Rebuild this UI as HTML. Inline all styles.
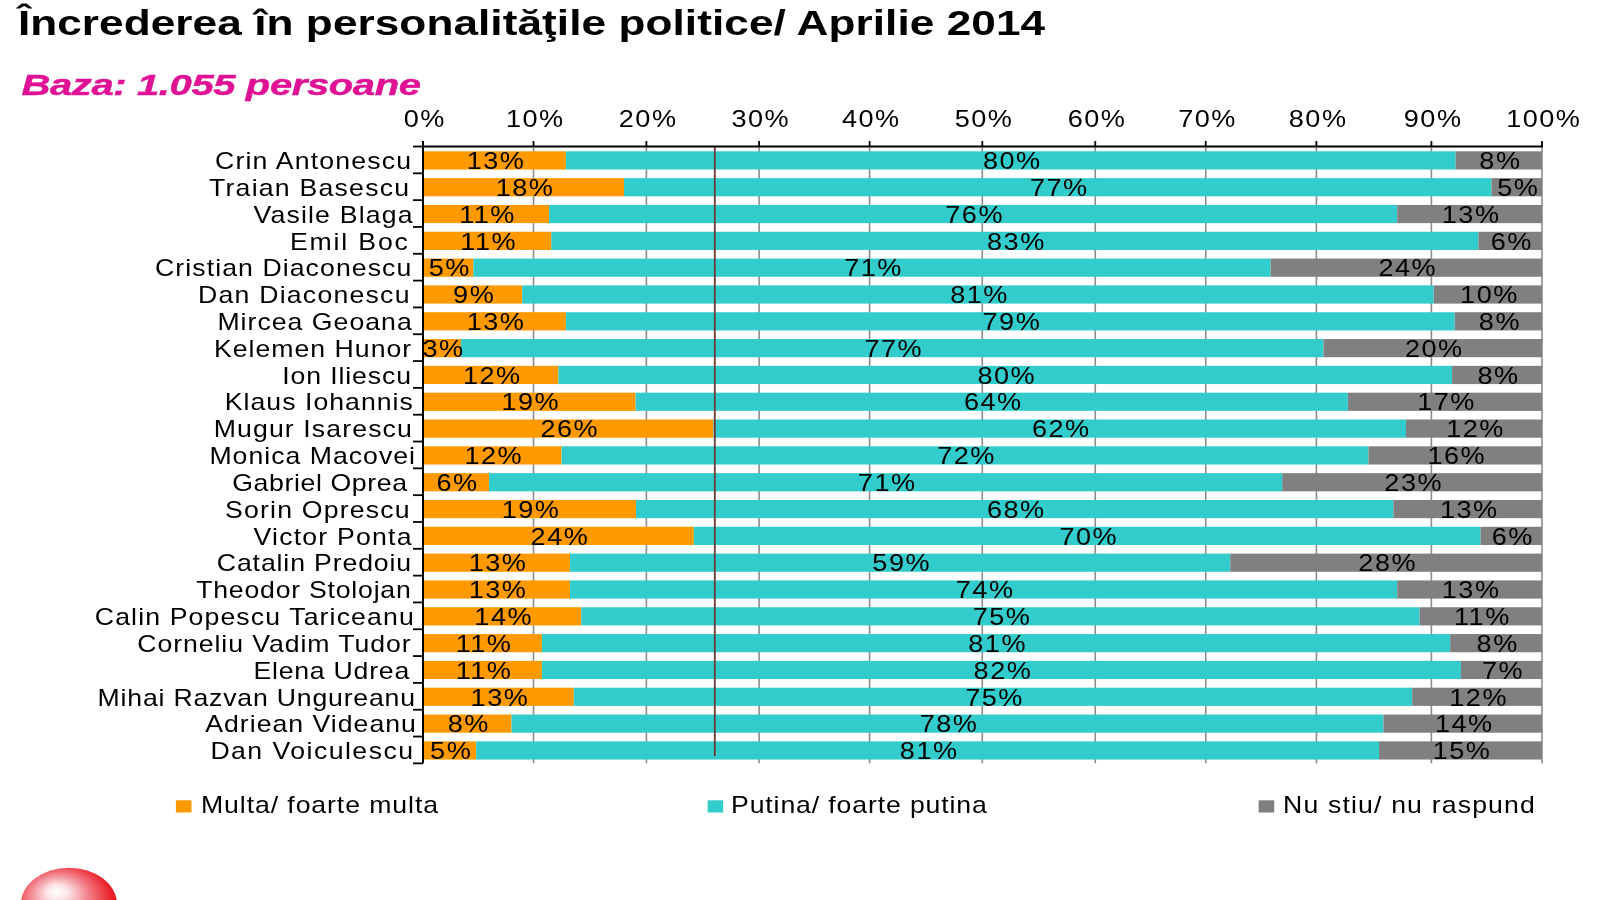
<!DOCTYPE html><html><head><meta charset="utf-8"><title>Increderea in personalitatile politice</title>
<style>html,body{margin:0;padding:0;background:#fff;width:1600px;height:900px;overflow:hidden}svg{display:block;filter:blur(0.6px)}.t{font-family:'Liberation Sans', Arial, sans-serif;font-size:94.40px;fill:#000}.ttl{font-family:'Liberation Sans', Arial, sans-serif;font-size:138.00px;font-weight:bold;fill:#000}.sub{font-family:'Liberation Sans', Arial, sans-serif;font-size:120.00px;font-weight:bold;font-style:italic;fill:#DF1195;stroke:#DF1195;stroke-width:1.80px}</style></head><body>
<svg width="1600" height="900" viewBox="0 0 1600 900">
<defs><radialGradient id="ball" cx="0.42" cy="0.48" r="0.62" fx="0.37" fy="0.31"><stop offset="0" stop-color="#ffffff"/><stop offset="0.18" stop-color="#fbe3e5"/><stop offset="0.5" stop-color="#f2808a"/><stop offset="0.8" stop-color="#ec3038"/><stop offset="1" stop-color="#e8000a"/></radialGradient></defs>
<text id="title" class="ttl" transform="translate(17.90 35.00) scale(0.32000 0.25000)" text-anchor="start" textLength="3209.93" lengthAdjust="spacing">Încrederea în personalităţile politice/ Aprilie 2014</text>
<text id="sub" class="sub" transform="translate(21.50 94.80) scale(0.33332 0.25000)" text-anchor="start" textLength="1198.54" lengthAdjust="spacing">Baza: 1.055 persoane</text>
<text class="t" transform="translate(424.75 126.50) scale(0.28700 0.25000)" text-anchor="middle" letter-spacing="5.2">0%</text>
<text class="t" transform="translate(535.25 126.50) scale(0.28700 0.25000)" text-anchor="middle" letter-spacing="5.2">10%</text>
<text class="t" transform="translate(648.15 126.50) scale(0.28700 0.25000)" text-anchor="middle" letter-spacing="5.2">20%</text>
<text class="t" transform="translate(760.85 126.50) scale(0.28700 0.25000)" text-anchor="middle" letter-spacing="5.2">30%</text>
<text class="t" transform="translate(871.35 126.50) scale(0.28700 0.25000)" text-anchor="middle" letter-spacing="5.2">40%</text>
<text class="t" transform="translate(984.05 126.50) scale(0.28700 0.25000)" text-anchor="middle" letter-spacing="5.2">50%</text>
<text class="t" transform="translate(1097.00 126.50) scale(0.28700 0.25000)" text-anchor="middle" letter-spacing="5.2">60%</text>
<text class="t" transform="translate(1207.50 126.50) scale(0.28700 0.25000)" text-anchor="middle" letter-spacing="5.2">70%</text>
<text class="t" transform="translate(1318.15 126.50) scale(0.28700 0.25000)" text-anchor="middle" letter-spacing="5.2">80%</text>
<text class="t" transform="translate(1433.15 126.50) scale(0.28700 0.25000)" text-anchor="middle" letter-spacing="5.2">90%</text>
<text class="t" transform="translate(1543.75 126.50) scale(0.28700 0.25000)" text-anchor="middle" letter-spacing="5.2">100%</text>
<line x1="533.5" y1="146.5" x2="533.5" y2="763.36" stroke="#8c8c8c" stroke-width="1.6"/>
<line x1="646.4" y1="146.5" x2="646.4" y2="763.36" stroke="#8c8c8c" stroke-width="1.6"/>
<line x1="759.1" y1="146.5" x2="759.1" y2="763.36" stroke="#8c8c8c" stroke-width="1.6"/>
<line x1="869.6" y1="146.5" x2="869.6" y2="763.36" stroke="#8c8c8c" stroke-width="1.6"/>
<line x1="982.3" y1="146.5" x2="982.3" y2="763.36" stroke="#8c8c8c" stroke-width="1.6"/>
<line x1="1095.25" y1="146.5" x2="1095.25" y2="763.36" stroke="#8c8c8c" stroke-width="1.6"/>
<line x1="1205.75" y1="146.5" x2="1205.75" y2="763.36" stroke="#8c8c8c" stroke-width="1.6"/>
<line x1="1316.4" y1="146.5" x2="1316.4" y2="763.36" stroke="#8c8c8c" stroke-width="1.6"/>
<line x1="1431.4" y1="146.5" x2="1431.4" y2="763.36" stroke="#8c8c8c" stroke-width="1.6"/>
<line x1="1542" y1="146.5" x2="1542" y2="763.36" stroke="#8c8c8c" stroke-width="1.6"/>
<rect x="423.0" y="151.30" width="142.90" height="18.2" fill="#FF9900"/>
<rect x="565.9" y="151.30" width="889.80" height="18.2" fill="#33CCCC"/>
<rect x="1455.7" y="151.30" width="86.30" height="18.2" fill="#808080"/>
<rect x="423.0" y="178.12" width="201.00" height="18.2" fill="#FF9900"/>
<rect x="624" y="178.12" width="867.50" height="18.2" fill="#33CCCC"/>
<rect x="1491.5" y="178.12" width="50.50" height="18.2" fill="#808080"/>
<rect x="423.0" y="204.94" width="126.00" height="18.2" fill="#FF9900"/>
<rect x="549" y="204.94" width="848.20" height="18.2" fill="#33CCCC"/>
<rect x="1397.2" y="204.94" width="144.80" height="18.2" fill="#808080"/>
<rect x="423.0" y="231.76" width="128.30" height="18.2" fill="#FF9900"/>
<rect x="551.3" y="231.76" width="927.10" height="18.2" fill="#33CCCC"/>
<rect x="1478.4" y="231.76" width="63.60" height="18.2" fill="#808080"/>
<rect x="423.0" y="258.58" width="50.40" height="18.2" fill="#FF9900"/>
<rect x="473.4" y="258.58" width="797.20" height="18.2" fill="#33CCCC"/>
<rect x="1270.6" y="258.58" width="271.40" height="18.2" fill="#808080"/>
<rect x="423.0" y="285.40" width="99.20" height="18.2" fill="#FF9900"/>
<rect x="522.2" y="285.40" width="911.55" height="18.2" fill="#33CCCC"/>
<rect x="1433.75" y="285.40" width="108.25" height="18.2" fill="#808080"/>
<rect x="423.0" y="312.22" width="142.90" height="18.2" fill="#FF9900"/>
<rect x="565.9" y="312.22" width="888.85" height="18.2" fill="#33CCCC"/>
<rect x="1454.75" y="312.22" width="87.25" height="18.2" fill="#808080"/>
<rect x="423.0" y="339.04" width="37.90" height="18.2" fill="#FF9900"/>
<rect x="460.9" y="339.04" width="862.60" height="18.2" fill="#33CCCC"/>
<rect x="1323.5" y="339.04" width="218.50" height="18.2" fill="#808080"/>
<rect x="423.0" y="365.86" width="135.40" height="18.2" fill="#FF9900"/>
<rect x="558.4" y="365.86" width="893.70" height="18.2" fill="#33CCCC"/>
<rect x="1452.1" y="365.86" width="89.90" height="18.2" fill="#808080"/>
<rect x="423.0" y="392.68" width="212.60" height="18.2" fill="#FF9900"/>
<rect x="635.6" y="392.68" width="712.30" height="18.2" fill="#33CCCC"/>
<rect x="1347.9" y="392.68" width="194.10" height="18.2" fill="#808080"/>
<rect x="423.0" y="419.50" width="290.40" height="18.2" fill="#FF9900"/>
<rect x="713.4" y="419.50" width="692.60" height="18.2" fill="#33CCCC"/>
<rect x="1406" y="419.50" width="136.00" height="18.2" fill="#808080"/>
<rect x="423.0" y="446.32" width="138.60" height="18.2" fill="#FF9900"/>
<rect x="561.6" y="446.32" width="806.90" height="18.2" fill="#33CCCC"/>
<rect x="1368.5" y="446.32" width="173.50" height="18.2" fill="#808080"/>
<rect x="423.0" y="473.14" width="66.00" height="18.2" fill="#FF9900"/>
<rect x="489" y="473.14" width="793.25" height="18.2" fill="#33CCCC"/>
<rect x="1282.25" y="473.14" width="259.75" height="18.2" fill="#808080"/>
<rect x="423.0" y="499.96" width="213.00" height="18.2" fill="#FF9900"/>
<rect x="636" y="499.96" width="757.40" height="18.2" fill="#33CCCC"/>
<rect x="1393.4" y="499.96" width="148.60" height="18.2" fill="#808080"/>
<rect x="423.0" y="526.78" width="270.80" height="18.2" fill="#FF9900"/>
<rect x="693.8" y="526.78" width="786.80" height="18.2" fill="#33CCCC"/>
<rect x="1480.6" y="526.78" width="61.40" height="18.2" fill="#808080"/>
<rect x="423.0" y="553.60" width="147.00" height="18.2" fill="#FF9900"/>
<rect x="570" y="553.60" width="660.30" height="18.2" fill="#33CCCC"/>
<rect x="1230.3" y="553.60" width="311.70" height="18.2" fill="#808080"/>
<rect x="423.0" y="580.42" width="147.00" height="18.2" fill="#FF9900"/>
<rect x="570" y="580.42" width="827.20" height="18.2" fill="#33CCCC"/>
<rect x="1397.2" y="580.42" width="144.80" height="18.2" fill="#808080"/>
<rect x="423.0" y="607.24" width="158.30" height="18.2" fill="#FF9900"/>
<rect x="581.3" y="607.24" width="838.40" height="18.2" fill="#33CCCC"/>
<rect x="1419.7" y="607.24" width="122.30" height="18.2" fill="#808080"/>
<rect x="423.0" y="634.06" width="118.90" height="18.2" fill="#FF9900"/>
<rect x="541.9" y="634.06" width="908.35" height="18.2" fill="#33CCCC"/>
<rect x="1450.25" y="634.06" width="91.75" height="18.2" fill="#808080"/>
<rect x="423.0" y="660.88" width="118.90" height="18.2" fill="#FF9900"/>
<rect x="541.9" y="660.88" width="919.00" height="18.2" fill="#33CCCC"/>
<rect x="1460.9" y="660.88" width="81.10" height="18.2" fill="#808080"/>
<rect x="423.0" y="687.70" width="150.75" height="18.2" fill="#FF9900"/>
<rect x="573.75" y="687.70" width="838.45" height="18.2" fill="#33CCCC"/>
<rect x="1412.2" y="687.70" width="129.80" height="18.2" fill="#808080"/>
<rect x="423.0" y="714.52" width="88.50" height="18.2" fill="#FF9900"/>
<rect x="511.5" y="714.52" width="872.00" height="18.2" fill="#33CCCC"/>
<rect x="1383.5" y="714.52" width="158.50" height="18.2" fill="#808080"/>
<rect x="423.0" y="741.34" width="53.25" height="18.2" fill="#FF9900"/>
<rect x="476.25" y="741.34" width="902.75" height="18.2" fill="#33CCCC"/>
<rect x="1379" y="741.34" width="163.00" height="18.2" fill="#808080"/>
<line x1="714.8" y1="146.5" x2="714.8" y2="756" stroke="#6a3838" stroke-width="1.8"/>
<text class="t" transform="translate(496.00 169.10) scale(0.28700 0.25000)" text-anchor="middle" letter-spacing="5.2">13%</text>
<text class="t" transform="translate(1012.35 169.10) scale(0.28700 0.25000)" text-anchor="middle" letter-spacing="5.2">80%</text>
<text class="t" transform="translate(1500.40 169.10) scale(0.28700 0.25000)" text-anchor="middle" letter-spacing="5.2">8%</text>
<text id="n0" class="t" transform="translate(215.00 169.10) scale(0.28250 0.25000)" text-anchor="start" textLength="694.29" lengthAdjust="spacing">Crin Antonescu</text>
<text class="t" transform="translate(525.05 195.92) scale(0.28700 0.25000)" text-anchor="middle" letter-spacing="5.2">18%</text>
<text class="t" transform="translate(1059.30 195.92) scale(0.28700 0.25000)" text-anchor="middle" letter-spacing="5.2">77%</text>
<text class="t" transform="translate(1518.30 195.92) scale(0.28700 0.25000)" text-anchor="middle" letter-spacing="5.2">5%</text>
<text id="n1" class="t" transform="translate(209.00 195.92) scale(0.28250 0.25000)" text-anchor="start" textLength="708.30" lengthAdjust="spacing">Traian Basescu</text>
<text class="t" transform="translate(487.55 222.74) scale(0.28700 0.25000)" text-anchor="middle" letter-spacing="5.2">11%</text>
<text class="t" transform="translate(974.65 222.74) scale(0.28700 0.25000)" text-anchor="middle" letter-spacing="5.2">76%</text>
<text class="t" transform="translate(1471.15 222.74) scale(0.28700 0.25000)" text-anchor="middle" letter-spacing="5.2">13%</text>
<text id="n2" class="t" transform="translate(253.40 222.74) scale(0.28250 0.25000)" text-anchor="start" textLength="563.67" lengthAdjust="spacing">Vasile Blaga</text>
<text class="t" transform="translate(488.70 249.56) scale(0.28700 0.25000)" text-anchor="middle" letter-spacing="5.2">11%</text>
<text class="t" transform="translate(1016.40 249.56) scale(0.28700 0.25000)" text-anchor="middle" letter-spacing="5.2">83%</text>
<text class="t" transform="translate(1511.75 249.56) scale(0.28700 0.25000)" text-anchor="middle" letter-spacing="5.2">6%</text>
<text id="n3" class="t" transform="translate(290.00 249.56) scale(0.28250 0.25000)" text-anchor="start" textLength="417.30" lengthAdjust="spacing">Emil Boc</text>
<text class="t" transform="translate(449.75 276.38) scale(0.28700 0.25000)" text-anchor="middle" letter-spacing="5.2">5%</text>
<text class="t" transform="translate(873.55 276.38) scale(0.28700 0.25000)" text-anchor="middle" letter-spacing="5.2">71%</text>
<text class="t" transform="translate(1407.85 276.38) scale(0.28700 0.25000)" text-anchor="middle" letter-spacing="5.2">24%</text>
<text id="n4" class="t" transform="translate(155.00 276.38) scale(0.28250 0.25000)" text-anchor="start" textLength="907.32" lengthAdjust="spacing">Cristian Diaconescu</text>
<text class="t" transform="translate(474.15 303.20) scale(0.28700 0.25000)" text-anchor="middle" letter-spacing="5.2">9%</text>
<text class="t" transform="translate(979.52 303.20) scale(0.28700 0.25000)" text-anchor="middle" letter-spacing="5.2">81%</text>
<text class="t" transform="translate(1489.42 303.20) scale(0.28700 0.25000)" text-anchor="middle" letter-spacing="5.2">10%</text>
<text id="n5" class="t" transform="translate(198.00 303.20) scale(0.28250 0.25000)" text-anchor="start" textLength="748.55" lengthAdjust="spacing">Dan Diaconescu</text>
<text class="t" transform="translate(496.00 330.02) scale(0.28700 0.25000)" text-anchor="middle" letter-spacing="5.2">13%</text>
<text class="t" transform="translate(1011.87 330.02) scale(0.28700 0.25000)" text-anchor="middle" letter-spacing="5.2">79%</text>
<text class="t" transform="translate(1499.92 330.02) scale(0.28700 0.25000)" text-anchor="middle" letter-spacing="5.2">8%</text>
<text id="n6" class="t" transform="translate(217.40 330.02) scale(0.28250 0.25000)" text-anchor="start" textLength="687.86" lengthAdjust="spacing">Mircea Geoana</text>
<text class="t" transform="translate(443.50 356.84) scale(0.28700 0.25000)" text-anchor="middle" letter-spacing="5.2">3%</text>
<text class="t" transform="translate(893.75 356.84) scale(0.28700 0.25000)" text-anchor="middle" letter-spacing="5.2">77%</text>
<text class="t" transform="translate(1434.30 356.84) scale(0.28700 0.25000)" text-anchor="middle" letter-spacing="5.2">20%</text>
<text id="n7" class="t" transform="translate(214.00 356.84) scale(0.28250 0.25000)" text-anchor="start" textLength="698.04" lengthAdjust="spacing">Kelemen Hunor</text>
<text class="t" transform="translate(492.25 383.66) scale(0.28700 0.25000)" text-anchor="middle" letter-spacing="5.2">12%</text>
<text class="t" transform="translate(1006.80 383.66) scale(0.28700 0.25000)" text-anchor="middle" letter-spacing="5.2">80%</text>
<text class="t" transform="translate(1498.60 383.66) scale(0.28700 0.25000)" text-anchor="middle" letter-spacing="5.2">8%</text>
<text id="n8" class="t" transform="translate(282.20 383.66) scale(0.28250 0.25000)" text-anchor="start" textLength="456.06" lengthAdjust="spacing">Ion Iliescu</text>
<text class="t" transform="translate(530.85 410.48) scale(0.28700 0.25000)" text-anchor="middle" letter-spacing="5.2">19%</text>
<text class="t" transform="translate(993.30 410.48) scale(0.28700 0.25000)" text-anchor="middle" letter-spacing="5.2">64%</text>
<text class="t" transform="translate(1446.50 410.48) scale(0.28700 0.25000)" text-anchor="middle" letter-spacing="5.2">17%</text>
<text id="n9" class="t" transform="translate(224.80 410.48) scale(0.28250 0.25000)" text-anchor="start" textLength="665.75" lengthAdjust="spacing">Klaus Iohannis</text>
<text class="t" transform="translate(569.75 437.30) scale(0.28700 0.25000)" text-anchor="middle" letter-spacing="5.2">26%</text>
<text class="t" transform="translate(1061.25 437.30) scale(0.28700 0.25000)" text-anchor="middle" letter-spacing="5.2">62%</text>
<text class="t" transform="translate(1475.55 437.30) scale(0.28700 0.25000)" text-anchor="middle" letter-spacing="5.2">12%</text>
<text id="n10" class="t" transform="translate(213.80 437.30) scale(0.28250 0.25000)" text-anchor="start" textLength="701.00" lengthAdjust="spacing">Mugur Isarescu</text>
<text class="t" transform="translate(493.85 464.12) scale(0.28700 0.25000)" text-anchor="middle" letter-spacing="5.2">12%</text>
<text class="t" transform="translate(966.60 464.12) scale(0.28700 0.25000)" text-anchor="middle" letter-spacing="5.2">72%</text>
<text class="t" transform="translate(1456.80 464.12) scale(0.28700 0.25000)" text-anchor="middle" letter-spacing="5.2">16%</text>
<text id="n11" class="t" transform="translate(209.40 464.12) scale(0.28250 0.25000)" text-anchor="start" textLength="727.88" lengthAdjust="spacing">Monica Macovei</text>
<text class="t" transform="translate(457.55 490.94) scale(0.28700 0.25000)" text-anchor="middle" letter-spacing="5.2">6%</text>
<text class="t" transform="translate(887.17 490.94) scale(0.28700 0.25000)" text-anchor="middle" letter-spacing="5.2">71%</text>
<text class="t" transform="translate(1413.67 490.94) scale(0.28700 0.25000)" text-anchor="middle" letter-spacing="5.2">23%</text>
<text id="n12" class="t" transform="translate(232.20 490.94) scale(0.28250 0.25000)" text-anchor="start" textLength="619.12" lengthAdjust="spacing">Gabriel Oprea</text>
<text class="t" transform="translate(531.05 517.76) scale(0.28700 0.25000)" text-anchor="middle" letter-spacing="5.2">19%</text>
<text class="t" transform="translate(1016.25 517.76) scale(0.28700 0.25000)" text-anchor="middle" letter-spacing="5.2">68%</text>
<text class="t" transform="translate(1469.25 517.76) scale(0.28700 0.25000)" text-anchor="middle" letter-spacing="5.2">13%</text>
<text id="n13" class="t" transform="translate(225.00 517.76) scale(0.28250 0.25000)" text-anchor="start" textLength="653.47" lengthAdjust="spacing">Sorin Oprescu</text>
<text class="t" transform="translate(559.95 544.58) scale(0.28700 0.25000)" text-anchor="middle" letter-spacing="5.2">24%</text>
<text class="t" transform="translate(1088.75 544.58) scale(0.28700 0.25000)" text-anchor="middle" letter-spacing="5.2">70%</text>
<text class="t" transform="translate(1512.85 544.58) scale(0.28700 0.25000)" text-anchor="middle" letter-spacing="5.2">6%</text>
<text id="n14" class="t" transform="translate(253.60 544.58) scale(0.28250 0.25000)" text-anchor="start" textLength="559.02" lengthAdjust="spacing">Victor Ponta</text>
<text class="t" transform="translate(498.05 571.40) scale(0.28700 0.25000)" text-anchor="middle" letter-spacing="5.2">13%</text>
<text class="t" transform="translate(901.70 571.40) scale(0.28700 0.25000)" text-anchor="middle" letter-spacing="5.2">59%</text>
<text class="t" transform="translate(1387.70 571.40) scale(0.28700 0.25000)" text-anchor="middle" letter-spacing="5.2">28%</text>
<text id="n15" class="t" transform="translate(216.80 571.40) scale(0.28250 0.25000)" text-anchor="start" textLength="688.06" lengthAdjust="spacing">Catalin Predoiu</text>
<text class="t" transform="translate(498.05 598.22) scale(0.28700 0.25000)" text-anchor="middle" letter-spacing="5.2">13%</text>
<text class="t" transform="translate(985.15 598.22) scale(0.28700 0.25000)" text-anchor="middle" letter-spacing="5.2">74%</text>
<text class="t" transform="translate(1471.15 598.22) scale(0.28700 0.25000)" text-anchor="middle" letter-spacing="5.2">13%</text>
<text id="n16" class="t" transform="translate(196.20 598.22) scale(0.28250 0.25000)" text-anchor="start" textLength="759.51" lengthAdjust="spacing">Theodor Stolojan</text>
<text class="t" transform="translate(503.70 625.04) scale(0.28700 0.25000)" text-anchor="middle" letter-spacing="5.2">14%</text>
<text class="t" transform="translate(1002.05 625.04) scale(0.28700 0.25000)" text-anchor="middle" letter-spacing="5.2">75%</text>
<text class="t" transform="translate(1482.40 625.04) scale(0.28700 0.25000)" text-anchor="middle" letter-spacing="5.2">11%</text>
<text id="n17" class="t" transform="translate(94.80 625.04) scale(0.28250 0.25000)" text-anchor="start" textLength="1128.94" lengthAdjust="spacing">Calin Popescu Tariceanu</text>
<text class="t" transform="translate(484.00 651.86) scale(0.28700 0.25000)" text-anchor="middle" letter-spacing="5.2">11%</text>
<text class="t" transform="translate(997.62 651.86) scale(0.28700 0.25000)" text-anchor="middle" letter-spacing="5.2">81%</text>
<text class="t" transform="translate(1497.67 651.86) scale(0.28700 0.25000)" text-anchor="middle" letter-spacing="5.2">8%</text>
<text id="n18" class="t" transform="translate(137.20 651.86) scale(0.28250 0.25000)" text-anchor="start" textLength="968.25" lengthAdjust="spacing">Corneliu Vadim Tudor</text>
<text class="t" transform="translate(484.00 678.68) scale(0.28700 0.25000)" text-anchor="middle" letter-spacing="5.2">11%</text>
<text class="t" transform="translate(1002.95 678.68) scale(0.28700 0.25000)" text-anchor="middle" letter-spacing="5.2">82%</text>
<text class="t" transform="translate(1503.00 678.68) scale(0.28700 0.25000)" text-anchor="middle" letter-spacing="5.2">7%</text>
<text id="n19" class="t" transform="translate(253.40 678.68) scale(0.28250 0.25000)" text-anchor="start" textLength="551.71" lengthAdjust="spacing">Elena Udrea</text>
<text class="t" transform="translate(499.92 705.50) scale(0.28700 0.25000)" text-anchor="middle" letter-spacing="5.2">13%</text>
<text class="t" transform="translate(994.52 705.50) scale(0.28700 0.25000)" text-anchor="middle" letter-spacing="5.2">75%</text>
<text class="t" transform="translate(1478.65 705.50) scale(0.28700 0.25000)" text-anchor="middle" letter-spacing="5.2">12%</text>
<text id="n20" class="t" transform="translate(97.60 705.50) scale(0.28250 0.25000)" text-anchor="start" textLength="1123.60" lengthAdjust="spacing">Mihai Razvan Ungureanu</text>
<text class="t" transform="translate(468.80 732.32) scale(0.28700 0.25000)" text-anchor="middle" letter-spacing="5.2">8%</text>
<text class="t" transform="translate(949.05 732.32) scale(0.28700 0.25000)" text-anchor="middle" letter-spacing="5.2">78%</text>
<text class="t" transform="translate(1464.30 732.32) scale(0.28700 0.25000)" text-anchor="middle" letter-spacing="5.2">14%</text>
<text id="n21" class="t" transform="translate(205.20 732.32) scale(0.28250 0.25000)" text-anchor="start" textLength="745.88" lengthAdjust="spacing">Adriean Videanu</text>
<text class="t" transform="translate(451.17 759.14) scale(0.28700 0.25000)" text-anchor="middle" letter-spacing="5.2">5%</text>
<text class="t" transform="translate(929.17 759.14) scale(0.28700 0.25000)" text-anchor="middle" letter-spacing="5.2">81%</text>
<text class="t" transform="translate(1462.05 759.14) scale(0.28700 0.25000)" text-anchor="middle" letter-spacing="5.2">15%</text>
<text id="n22" class="t" transform="translate(210.40 759.14) scale(0.28250 0.25000)" text-anchor="start" textLength="717.28" lengthAdjust="spacing">Dan Voiculescu</text>
<line x1="422.5" y1="146.5" x2="1543.0" y2="146.5" stroke="#000" stroke-width="1.8"/>
<line x1="423.0" y1="141.0" x2="423.0" y2="763.36" stroke="#000" stroke-width="2"/>
<line x1="423" y1="141.0" x2="423" y2="146.5" stroke="#000" stroke-width="1.8"/>
<line x1="533.5" y1="141.0" x2="533.5" y2="146.5" stroke="#000" stroke-width="1.8"/>
<line x1="646.4" y1="141.0" x2="646.4" y2="146.5" stroke="#000" stroke-width="1.8"/>
<line x1="759.1" y1="141.0" x2="759.1" y2="146.5" stroke="#000" stroke-width="1.8"/>
<line x1="869.6" y1="141.0" x2="869.6" y2="146.5" stroke="#000" stroke-width="1.8"/>
<line x1="982.3" y1="141.0" x2="982.3" y2="146.5" stroke="#000" stroke-width="1.8"/>
<line x1="1095.25" y1="141.0" x2="1095.25" y2="146.5" stroke="#000" stroke-width="1.8"/>
<line x1="1205.75" y1="141.0" x2="1205.75" y2="146.5" stroke="#000" stroke-width="1.8"/>
<line x1="1316.4" y1="141.0" x2="1316.4" y2="146.5" stroke="#000" stroke-width="1.8"/>
<line x1="1431.4" y1="141.0" x2="1431.4" y2="146.5" stroke="#000" stroke-width="1.8"/>
<line x1="1542" y1="141.0" x2="1542" y2="146.5" stroke="#000" stroke-width="1.8"/>
<line x1="413.0" y1="146.50" x2="423.0" y2="146.50" stroke="#000" stroke-width="1.8"/>
<line x1="413.0" y1="173.32" x2="423.0" y2="173.32" stroke="#000" stroke-width="1.8"/>
<line x1="413.0" y1="200.14" x2="423.0" y2="200.14" stroke="#000" stroke-width="1.8"/>
<line x1="413.0" y1="226.96" x2="423.0" y2="226.96" stroke="#000" stroke-width="1.8"/>
<line x1="413.0" y1="253.78" x2="423.0" y2="253.78" stroke="#000" stroke-width="1.8"/>
<line x1="413.0" y1="280.60" x2="423.0" y2="280.60" stroke="#000" stroke-width="1.8"/>
<line x1="413.0" y1="307.42" x2="423.0" y2="307.42" stroke="#000" stroke-width="1.8"/>
<line x1="413.0" y1="334.24" x2="423.0" y2="334.24" stroke="#000" stroke-width="1.8"/>
<line x1="413.0" y1="361.06" x2="423.0" y2="361.06" stroke="#000" stroke-width="1.8"/>
<line x1="413.0" y1="387.88" x2="423.0" y2="387.88" stroke="#000" stroke-width="1.8"/>
<line x1="413.0" y1="414.70" x2="423.0" y2="414.70" stroke="#000" stroke-width="1.8"/>
<line x1="413.0" y1="441.52" x2="423.0" y2="441.52" stroke="#000" stroke-width="1.8"/>
<line x1="413.0" y1="468.34" x2="423.0" y2="468.34" stroke="#000" stroke-width="1.8"/>
<line x1="413.0" y1="495.16" x2="423.0" y2="495.16" stroke="#000" stroke-width="1.8"/>
<line x1="413.0" y1="521.98" x2="423.0" y2="521.98" stroke="#000" stroke-width="1.8"/>
<line x1="413.0" y1="548.80" x2="423.0" y2="548.80" stroke="#000" stroke-width="1.8"/>
<line x1="413.0" y1="575.62" x2="423.0" y2="575.62" stroke="#000" stroke-width="1.8"/>
<line x1="413.0" y1="602.44" x2="423.0" y2="602.44" stroke="#000" stroke-width="1.8"/>
<line x1="413.0" y1="629.26" x2="423.0" y2="629.26" stroke="#000" stroke-width="1.8"/>
<line x1="413.0" y1="656.08" x2="423.0" y2="656.08" stroke="#000" stroke-width="1.8"/>
<line x1="413.0" y1="682.90" x2="423.0" y2="682.90" stroke="#000" stroke-width="1.8"/>
<line x1="413.0" y1="709.72" x2="423.0" y2="709.72" stroke="#000" stroke-width="1.8"/>
<line x1="413.0" y1="736.54" x2="423.0" y2="736.54" stroke="#000" stroke-width="1.8"/>
<line x1="413.0" y1="763.36" x2="423.0" y2="763.36" stroke="#000" stroke-width="1.8"/>
<rect x="175.9" y="800.3" width="15.6" height="12.2" fill="#FF9900"/>
<text id="lg1" class="t" transform="translate(201.00 812.70) scale(0.28250 0.25000)" text-anchor="start" textLength="839.07" lengthAdjust="spacing">Multa/ foarte multa</text>
<rect x="707.6" y="800.3" width="15.6" height="12.2" fill="#33CCCC"/>
<text id="lg2" class="t" transform="translate(731.00 812.70) scale(0.28250 0.25000)" text-anchor="start" textLength="905.63" lengthAdjust="spacing">Putina/ foarte putina</text>
<rect x="1258.6" y="800.3" width="15.6" height="12.2" fill="#808080"/>
<text id="lg3" class="t" transform="translate(1283.00 812.70) scale(0.28250 0.25000)" text-anchor="start" textLength="891.61" lengthAdjust="spacing">Nu stiu/ nu raspund</text>
<ellipse cx="68.9" cy="904.5" rx="48.2" ry="36.8" fill="url(#ball)"/>
</svg></body></html>
